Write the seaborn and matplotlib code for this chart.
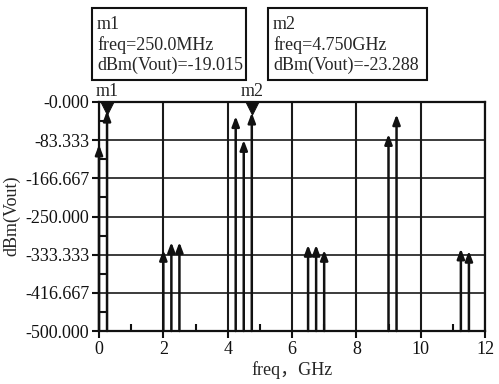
import matplotlib
matplotlib.use("Agg")
import matplotlib.pyplot as plt
import seaborn as sns
import numpy as np
import pandas as pd
from matplotlib.patches import Rectangle
from matplotlib.ticker import FixedLocator
from matplotlib.transforms import ScaledTranslation

freqs = [0.0, 0.25, 2.0, 2.25, 2.5, 4.25, 4.5, 4.75, 6.5, 6.75, 7.0, 9.0, 9.25, 11.25, 11.5]
levels = [-93, -19.015, -323, -306, -306, -31, -83, -23.288, -312, -312, -323, -70, -27, -320, -325]
marker_names = ["m1", "m2"]
marker_freqs = [0.25, 4.75]
marker_texts = ["m1\nfreq=250.0MHz\ndBm(Vout)=-19.015",
                "m2\nfreq=4.750GHz\ndBm(Vout)=-23.288"]
yticks = [0, -83.333, -166.667, -250.0, -333.333, -416.667, -500.0]
ytick_labels = ["-0.000", "-83.333", "-166.667", "-250.000", "-333.333", "-416.667", "-500.000"]
xticks = [0, 2, 4, 6, 8, 10, 12]

sns.set_style("white")
plt.rcParams['font.family'] = ['Liberation Serif', 'Noto Sans CJK SC', 'DejaVu Sans']
plt.rcParams['font.size'] = 13

fig = plt.figure(figsize=(4.99, 3.84), dpi=100)
ax = fig.add_axes([99/499, 53/384, 386/499, 229/384])

ax.set_xlim(0, 12)
ax.set_ylim(-500, 0)

# grid
for xv in xticks:
    ax.axvline(xv, color='#1a1a1a', lw=1.5, zorder=1)
for yv in yticks:
    ax.axhline(yv, color='#1a1a1a', lw=1.2, zorder=1)

# spectral lines with arrowheads
for f, v in zip(freqs, levels):
    ax.annotate("", xy=(f, v), xytext=(f, -500),
                arrowprops=dict(arrowstyle='-|>,head_width=0.17,head_length=0.45',
                                color='#111111', lw=1.8, shrinkA=0, shrinkB=0),
                zorder=3, annotation_clip=False)

# markers (triangle hanging below the top edge)
mdf = pd.DataFrame({"freq": marker_freqs, "val": [0.0] * len(marker_freqs)})
sns.scatterplot(data=mdf, x="freq", y="val", marker='v', s=90, color='#111111',
                edgecolor='#111111', ax=ax, zorder=5, clip_on=False, legend=False)
coll = ax.collections[-1]
coll.set_offset_transform(ax.transData + ScaledTranslation(0, -0.06, fig.dpi_scale_trans))
for name, f in zip(marker_names, marker_freqs):
    ax.annotate(name, xy=(f, 0), xytext=(0, 1.5), textcoords='offset points',
                ha='center', va='bottom', fontsize=13, annotation_clip=False)

ax.set_xticks(xticks)
ax.set_xticklabels([str(x) for x in xticks])
ax.set_yticks(yticks)
ax.set_yticklabels(ytick_labels)
ax.xaxis.set_minor_locator(FixedLocator([1, 3, 5, 7, 9, 11]))
ax.yaxis.set_minor_locator(FixedLocator([y - 41.6667 for y in yticks[:-1]]))
ax.tick_params(axis='both', which='major', direction='out', length=5, width=1.5,
               colors='#111111', labelsize=13, pad=2, left=True, bottom=True)
ax.tick_params(axis='both', which='minor', direction='in', length=5, width=1.5,
               colors='#111111', left=True, bottom=True)
ax.set_xlabel("")
ax.set_ylabel("")
for sp in ax.spines.values():
    sp.set_color('#111111')
    sp.set_linewidth(1.6)

# marker info boxes
boxes = [(92, 8, 246, 80), (268, 8, 427, 80)]
for (x0, y0, x1, y1), txt in zip(boxes, marker_texts):
    fig.patches.append(Rectangle((x0/499, 1 - y1/384), (x1 - x0)/499, (y1 - y0)/384,
                                 transform=fig.transFigure, fill=False,
                                 edgecolor='#111111', lw=1.5))
    fig.text((x0 + 5)/499, 1 - (y0 + 37)/384, txt, ha='left', va='center',
             fontsize=13, linespacing=1.2)

fig.text(12/499, 1 - 216/384, "dBm(Vout)", rotation=90, ha='center', va='center', fontsize=13)
fig.text(292/499, 1 - 370/384, "freq，GHz", ha='center', va='center', fontsize=13)

fig.savefig("out.png", dpi=100)
